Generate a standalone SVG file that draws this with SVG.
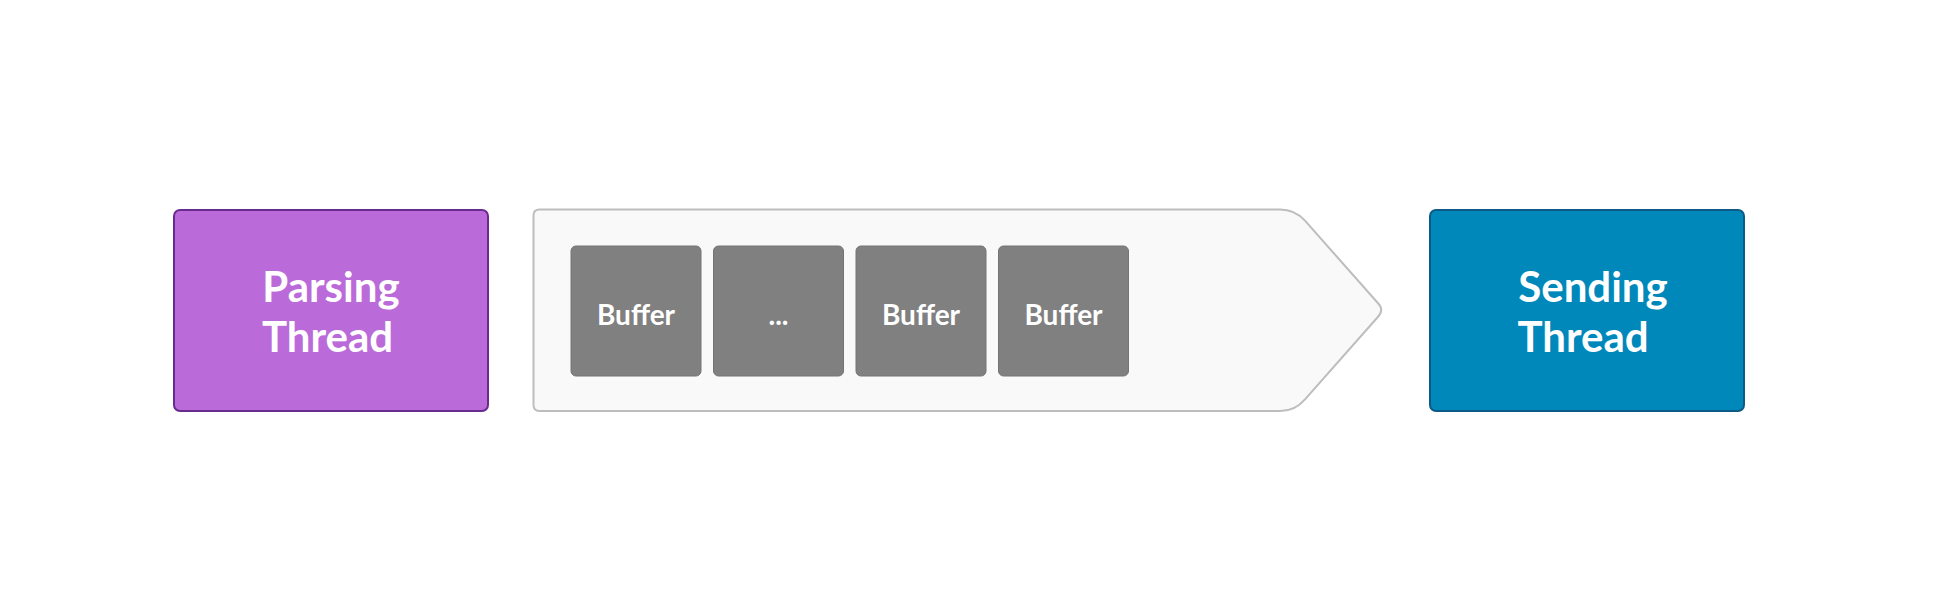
<svg xmlns="http://www.w3.org/2000/svg" width="1954" height="615" viewBox="0 0 1954 615">
<style>
.lbl{font-family:Lato,"Open Sans","Liberation Sans",sans-serif;font-weight:bold;fill:#ffffff;text-anchor:middle}
.big{font-size:42px}
.small{font-size:28px}
.buf{fill:#808080;stroke:#747474;stroke-width:1}
</style>
<rect width="1954" height="615" fill="#ffffff"/>
<g id="connectors"></g>
<g id="parsing">
<rect x="174" y="210" width="314" height="201" rx="6" fill="#bb6bd9" stroke="#6a2c8c" stroke-width="2"/>
<text class="lbl big" x="331" y="301.5">Parsing</text>
<text class="lbl big" x="327.5" y="351.5">Thread</text>
</g>
<g id="queue">
<path d="M539.5,209.5 L1280,209.5 Q1295,209.5 1305,220.7 L1377.4,302.5 Q1385,310 1377.4,317.5 L1305,399.3 Q1295,411 1280,411 L539.5,411 Q533.5,411 533.5,405 L533.5,215.5 Q533.5,209.5 539.5,209.5 Z" fill="#f9f9f9" stroke="#bdbdbd" stroke-width="2"/>
</g>
<g id="buffer1">
<rect class="buf" x="571" y="246" width="130" height="130" rx="5"/>
<text class="lbl small" x="636" y="324.5">Buffer</text>
</g>
<g id="buffer2">
<rect class="buf" x="713.5" y="246" width="130" height="130" rx="5"/>
<text class="lbl small" x="778.5" y="324.5">...</text>
</g>
<g id="buffer3">
<rect class="buf" x="856" y="246" width="130" height="130" rx="5"/>
<text class="lbl small" x="921" y="324.5">Buffer</text>
</g>
<g id="buffer4">
<rect class="buf" x="998.5" y="246" width="130" height="130" rx="5"/>
<text class="lbl small" x="1063.5" y="324.5">Buffer</text>
</g>
<g id="sending">
<rect x="1430" y="210" width="314" height="201" rx="6" fill="#0088bb" stroke="#0e5a86" stroke-width="2"/>
<text class="lbl big" x="1593" y="301.5">Sending</text>
<text class="lbl big" x="1583" y="351.5">Thread</text>
</g>
</svg>
